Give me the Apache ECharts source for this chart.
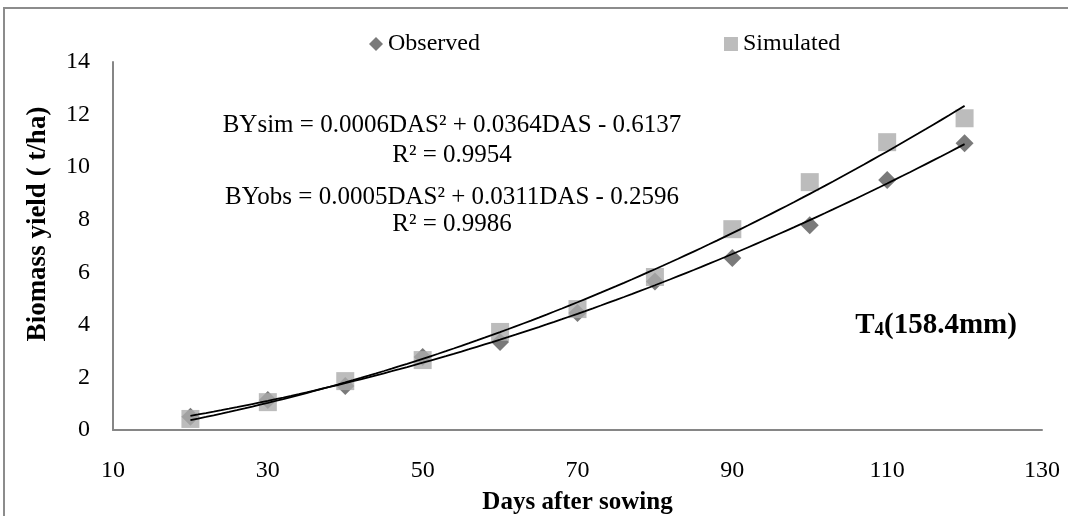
<!DOCTYPE html>
<html>
<head>
<meta charset="utf-8">
<script src="https://cdn.jsdelivr.net/npm/echarts@6/dist/echarts.min.js"></script>
<style>
  html, body { margin: 0; padding: 0; background: #fff; }
  #chart { width: 1068px; height: 516px; }
</style>
</head>
<body>
<div id="chart"></div>
<script>
// days after sowing
var das = [20, 30, 40, 50, 60, 70, 80, 90, 100, 110, 120];
// biomass yield (t/ha)
var observed = [0.5, 1.14, 1.67, 2.78, 3.35, 4.45, 5.65, 6.54, 7.79, 9.51, 10.91];
var simulated = [0.42, 1.06, 1.86, 2.66, 3.73, 4.6, 5.82, 7.64, 9.43, 10.95, 11.86];
var xTicks = [10, 30, 50, 70, 90, 110, 130];
var yTicks = [0, 2, 4, 6, 8, 10, 12, 14];

var serif = "'Liberation Serif', 'DejaVu Serif', serif";

// 2nd order least squares fit, like the excel trendline
function polyFit(xs, ys) {
  var s = [0, 0, 0, 0, 0], t = [0, 0, 0];
  for (var i = 0; i < xs.length; i++) {
    var x = xs[i], p = 1;
    for (var k = 0; k < 5; k++) {
      s[k] += p;
      if (k < 3) t[k] += p * ys[i];
      p *= x;
    }
  }
  // solve [[s0 s1 s2][s1 s2 s3][s2 s3 s4]] * [a0 a1 a2] = t
  var m = [[s[0], s[1], s[2], t[0]], [s[1], s[2], s[3], t[1]], [s[2], s[3], s[4], t[2]]];
  for (var c = 0; c < 3; c++) {
    for (var r = c + 1; r < 3; r++) {
      var f = m[r][c] / m[c][c];
      for (var j = c; j < 4; j++) m[r][j] -= f * m[c][j];
    }
  }
  var a = [0, 0, 0];
  for (var r2 = 2; r2 >= 0; r2--) {
    var v = m[r2][3];
    for (var j2 = r2 + 1; j2 < 3; j2++) v -= m[r2][j2] * a[j2];
    a[r2] = v / m[r2][r2];
  }
  return a;
}

function trend(xs, ys) {
  var a = polyFit(xs, ys), pts = [];
  for (var x = xs[0]; x <= xs[xs.length - 1]; x += 1) {
    pts.push([x, a[0] + a[1] * x + a[2] * x * x]);
  }
  return pts;
}

function pairs(xs, ys) {
  return xs.map(function (x, i) { return [x, ys[i]]; });
}

var myChart = echarts.init(document.getElementById("chart"));

var opt = {
  backgroundColor: "#fff",
  animation: false,
  grid: { left: 113, right: 26, top: 62, bottom: 86, containLabel: false, outerBoundsMode: "none" },
  legend: {
    left: 364,
    top: 27,
    itemGap: 244,
    itemWidth: 14,
    itemHeight: 14,
    itemTextGap: 2,
    textStyle: { fontFamily: serif, fontSize: 24, color: "#000" },
    data: [
      { name: "Observed", icon: "diamond" },
      { name: "Simulated", icon: "rect" }
    ]
  },
  xAxis: {
    type: "value",
    min: 10,
    max: 130,
    interval: 20,
    name: "Days after sowing",
    nameLocation: "middle",
    nameGap: 60,
    nameTextStyle: { fontFamily: serif, fontSize: 25, fontWeight: "bold", color: "#000" },
    axisLine: { show: true, lineStyle: { color: "#868686", width: 2 } },
    axisTick: { show: false },
    splitLine: { show: false },
    axisLabel: {
      margin: 29,
      fontFamily: serif,
      fontSize: 24,
      color: "#000",
      formatter: function (v) { return xTicks.indexOf(v) >= 0 ? v : ""; }
    }
  },
  yAxis: {
    type: "value",
    min: 0,
    max: 14,
    interval: 2,
    axisLine: { show: true, lineStyle: { color: "#868686", width: 2 } },
    axisTick: { show: false },
    splitLine: { show: false },
    axisLabel: {
      margin: 23,
      fontFamily: serif,
      fontSize: 24,
      color: "#000",
      formatter: function (v) { return yTicks.indexOf(v) >= 0 ? v : ""; }
    }
  },
  graphic: [
    {
      type: "rect",
      shape: { x: 4, y: 8, width: 1200, height: 700 },
      style: { fill: null, stroke: "#8c8c8c", lineWidth: 2 },
      silent: true
    },
    {
      // y axis title, sits a bit above the plot middle like the original
      type: "text",
      x: 38, y: 224,
      rotation: Math.PI / 2,
      style: {
        text: "Biomass yield ( t/ha)",
        font: "bold 27px " + serif, fill: "#000", align: "center", verticalAlign: "middle"
      }
    },
    {
      type: "text",
      x: 452, y: 125,
      style: {
        text: "BYsim = 0.0006DAS\u00b2 + 0.0364DAS - 0.6137",
        font: "25px " + serif, fill: "#000", align: "center", verticalAlign: "middle"
      }
    },
    {
      type: "text",
      x: 452, y: 155,
      style: {
        text: "R\u00b2 = 0.9954",
        font: "25px " + serif, fill: "#000", align: "center", verticalAlign: "middle"
      }
    },
    {
      type: "text",
      x: 452, y: 197,
      style: {
        text: "BYobs = 0.0005DAS\u00b2 + 0.0311DAS - 0.2596",
        font: "25px " + serif, fill: "#000", align: "center", verticalAlign: "middle"
      }
    },
    {
      type: "text",
      x: 452, y: 224,
      style: {
        text: "R\u00b2 = 0.9986",
        font: "25px " + serif, fill: "#000", align: "center", verticalAlign: "middle"
      }
    },
    {
      type: "text",
      x: 936, y: 322,
      style: {
        text: "{t|T}{s|4}{t|(158.4mm)}",
        align: "center", verticalAlign: "middle",
        rich: {
          t: { fontFamily: serif, fontSize: 29, fontWeight: "bold", color: "#000", lineHeight: 36, verticalAlign: "bottom" },
          s: { fontFamily: serif, fontSize: 19, fontWeight: "bold", color: "#000", lineHeight: 36, verticalAlign: "bottom", padding: [18, 0, 0, 0] }
        }
      }
    }
  ],
  series: [
    {
      name: "Observed",
      type: "scatter",
      symbol: "diamond",
      symbolSize: 18,
      itemStyle: { color: "#595959" },
      data: pairs(das, observed),
      z: 2
    },
    {
      name: "Simulated",
      type: "scatter",
      symbol: "rect",
      symbolSize: 18,
      itemStyle: { color: "#ababab" },
      data: pairs(das, simulated),
      z: 3
    },
    {
      name: "sim trend",
      type: "line",
      showSymbol: false,
      smooth: false,
      lineStyle: { color: "#000", width: 1.8 },
      data: trend(das, simulated),
      z: 4
    },
    {
      name: "obs trend",
      type: "line",
      showSymbol: false,
      smooth: false,
      lineStyle: { color: "#000", width: 1.8 },
      data: trend(das, observed),
      z: 4
    }
  ]
};

myChart.setOption(opt);
</script>
</body>
</html>
